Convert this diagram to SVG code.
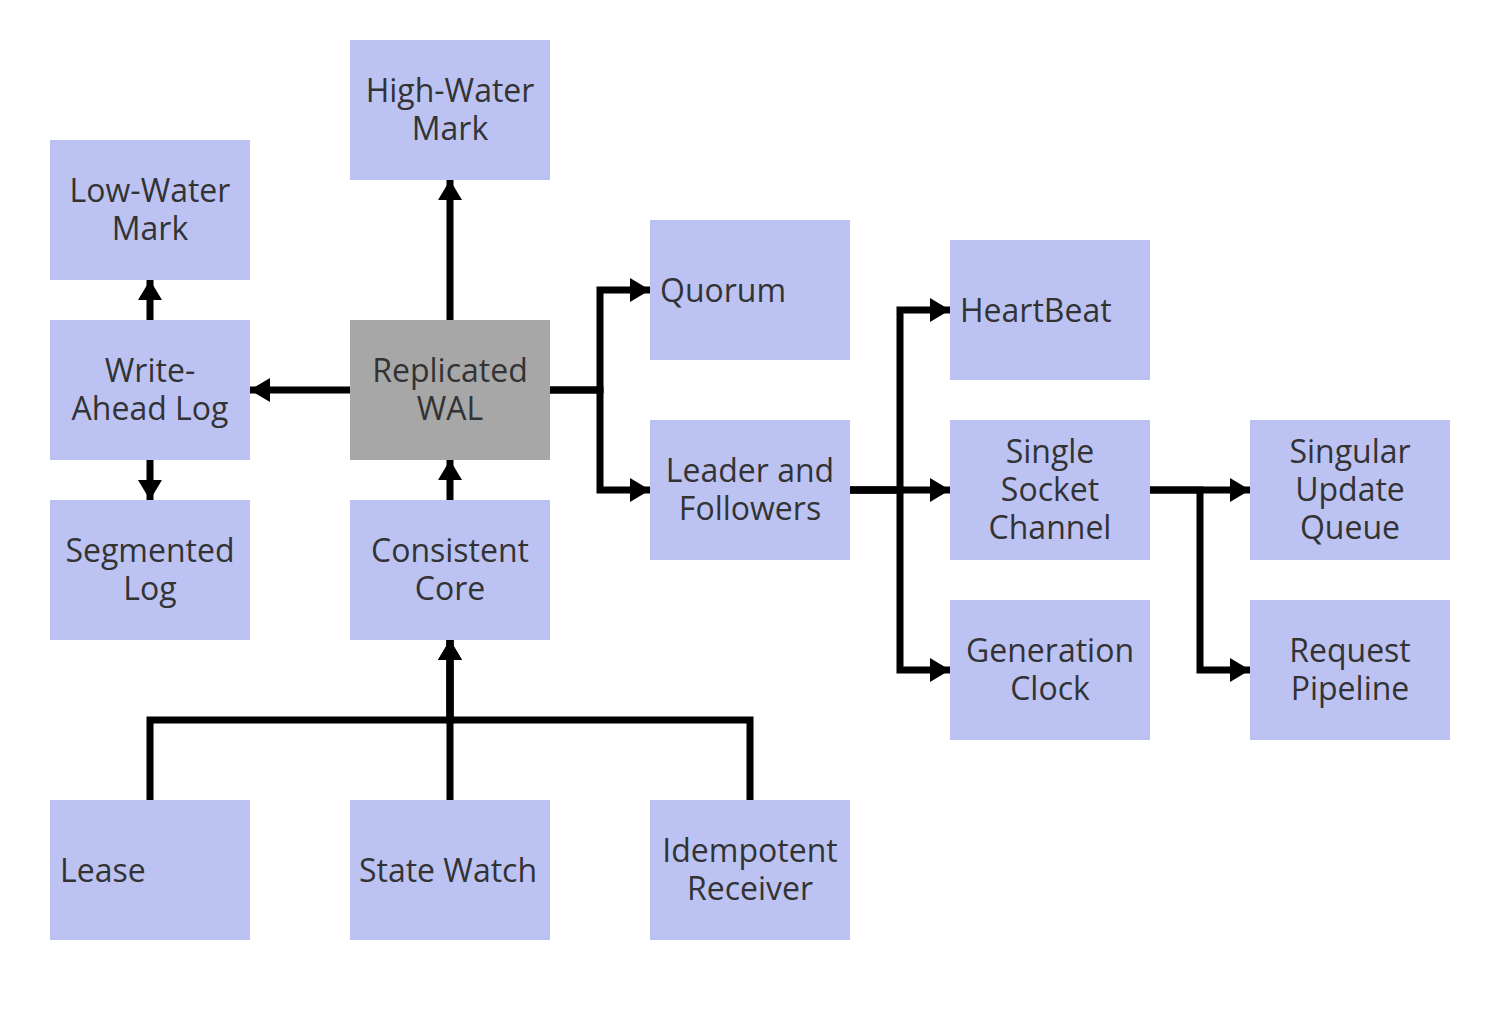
<svg xmlns="http://www.w3.org/2000/svg" width="1508" height="1010" viewBox="0 0 1508 1010">
<style>
.n{fill:#bcc3f3}
.g{fill:#a8a7a8}
text{font-family:"Open Sans","Liberation Sans",sans-serif;font-size:32px;fill:#333}
.c{text-anchor:middle}
.e{fill:none;stroke:#000;stroke-width:7;marker-end:url(#ah)}
</style>
<defs>
<marker id="ah" markerUnits="userSpaceOnUse" markerWidth="22" markerHeight="26" refX="20" refY="12" orient="auto">
<path d="M0,0 L20,12 L0,24 Z" fill="#000"/>
</marker>
</defs>
<rect width="1508" height="1010" fill="#fff"/>
<g id="connectors">
<path class="e" d="M350,390 H250"/>
<path class="e" d="M450,320 V180"/>
<path class="e" d="M150,320 V280"/>
<path class="e" d="M150,460 V500"/>
<path class="e" d="M450,500 V460"/>
<path class="e" d="M550,390 H600 V290 H650"/>
<path class="e" d="M550,390 H600 V490 H650"/>
<path class="e" d="M850,490 H900 V310 H950"/>
<path class="e" d="M850,490 H950"/>
<path class="e" d="M850,490 H900 V670 H950"/>
<path class="e" d="M1150,490 H1250"/>
<path class="e" d="M1150,490 H1200 V670 H1250"/>
<path class="e" d="M150,800 V720 H450 V640"/>
<path class="e" d="M450,800 V640"/>
<path class="e" d="M750,800 V720 H450 V640"/>
</g>
<g id="high-water-mark"><rect class="n" x="350" y="40" width="200" height="140"/><text class="c" x="450" y="102">High-Water</text><text class="c" x="450" y="140">Mark</text></g>
<g id="low-water-mark"><rect class="n" x="50" y="140" width="200" height="140"/><text class="c" x="150" y="202">Low-Water</text><text class="c" x="150" y="240">Mark</text></g>
<g id="write-ahead-log"><rect class="n" x="50" y="320" width="200" height="140"/><text class="c" x="150" y="382">Write-</text><text class="c" x="150" y="420">Ahead Log</text></g>
<g id="segmented-log"><rect class="n" x="50" y="500" width="200" height="140"/><text class="c" x="150" y="562">Segmented</text><text class="c" x="150" y="600">Log</text></g>
<g id="replicated-wal"><rect class="g" x="350" y="320" width="200" height="140"/><text class="c" x="450" y="382">Replicated</text><text class="c" x="450" y="420">WAL</text></g>
<g id="consistent-core"><rect class="n" x="350" y="500" width="200" height="140"/><text class="c" x="450" y="562">Consistent</text><text class="c" x="450" y="600">Core</text></g>
<g id="quorum"><rect class="n" x="650" y="220" width="200" height="140"/><text x="660" y="302">Quorum</text></g>
<g id="leader-and-followers"><rect class="n" x="650" y="420" width="200" height="140"/><text class="c" x="750" y="482">Leader and</text><text class="c" x="750" y="520">Followers</text></g>
<g id="heartbeat"><rect class="n" x="950" y="240" width="200" height="140"/><text x="960" y="322">HeartBeat</text></g>
<g id="single-socket-channel"><rect class="n" x="950" y="420" width="200" height="140"/><text class="c" x="1050" y="463">Single</text><text class="c" x="1050" y="501">Socket</text><text class="c" x="1050" y="539">Channel</text></g>
<g id="generation-clock"><rect class="n" x="950" y="600" width="200" height="140"/><text class="c" x="1050" y="662">Generation</text><text class="c" x="1050" y="700">Clock</text></g>
<g id="singular-update-queue"><rect class="n" x="1250" y="420" width="200" height="140"/><text class="c" x="1350" y="463">Singular</text><text class="c" x="1350" y="501">Update</text><text class="c" x="1350" y="539">Queue</text></g>
<g id="request-pipeline"><rect class="n" x="1250" y="600" width="200" height="140"/><text class="c" x="1350" y="662">Request</text><text class="c" x="1350" y="700">Pipeline</text></g>
<g id="lease"><rect class="n" x="50" y="800" width="200" height="140"/><text x="60" y="882">Lease</text></g>
<g id="state-watch"><rect class="n" x="350" y="800" width="200" height="140"/><text class="c" x="448" y="882">State Watch</text></g>
<g id="idempotent-receiver"><rect class="n" x="650" y="800" width="200" height="140"/><text class="c" x="750" y="862">Idempotent</text><text class="c" x="750" y="900">Receiver</text></g>
</svg>
